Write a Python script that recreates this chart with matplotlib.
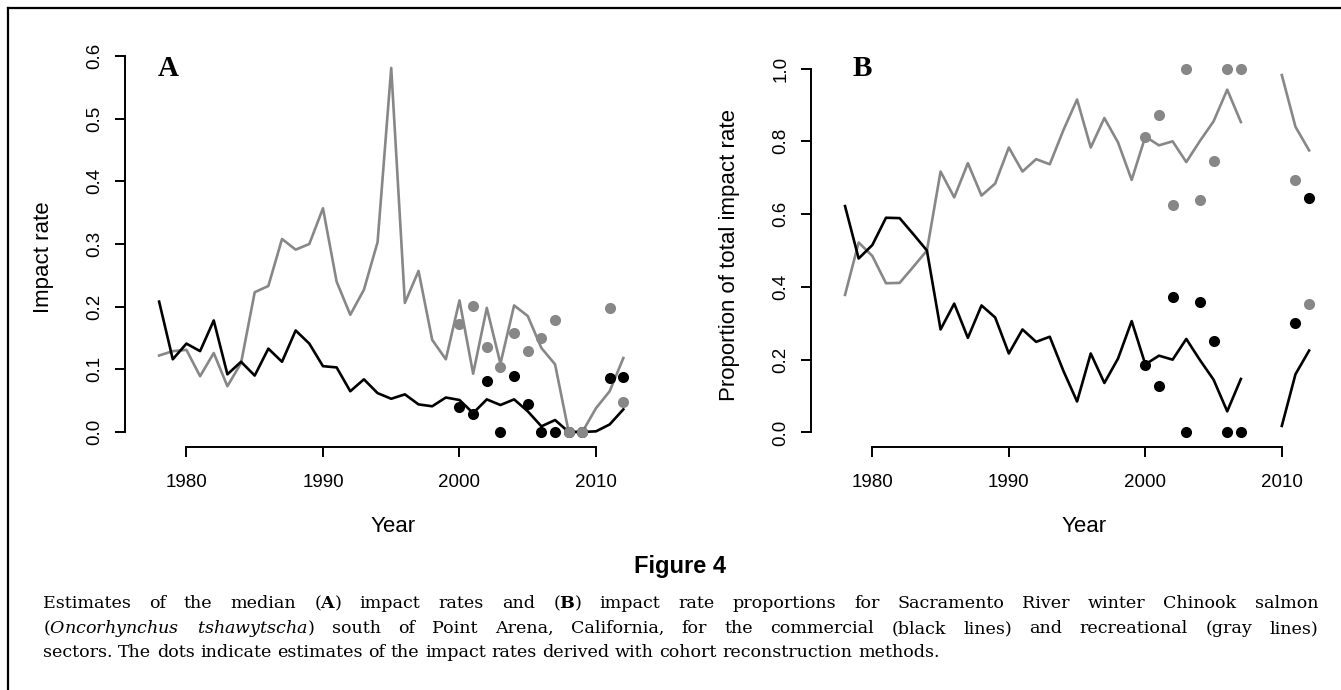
import numpy as np
from matplotlib import pyplot as plt
from matplotlib.lines import Line2D

# Figure 4: impact rates (A) and proportions (B), commercial vs recreational
W, H = 1341, 690

years = np.arange(1978, 2013)

# Panel A - median impact rates
comm_rate = [0.208, 0.116, 0.141, 0.129, 0.178, 0.092, 0.112, 0.090, 0.133, 0.112,
             0.162, 0.141, 0.105, 0.103, 0.065, 0.084, 0.062, 0.053, 0.060, 0.044,
             0.041, 0.055, 0.051, 0.030, 0.052, 0.043, 0.052, 0.033, 0.009, 0.019,
             0.000, 0.000, 0.001, 0.012, 0.036]
rec_rate = [0.122, 0.129, 0.131, 0.089, 0.126, 0.073, 0.110, 0.223, 0.233, 0.308,
            0.291, 0.300, 0.357, 0.240, 0.187, 0.227, 0.303, 0.581, 0.206, 0.257,
            0.147, 0.116, 0.210, 0.093, 0.198, 0.109, 0.202, 0.185, 0.134, 0.108,
            0.000, 0.000, 0.038, 0.065, 0.118]

# cohort reconstruction estimates (dots), panel A
cr_years_a = [2000, 2001, 2002, 2003, 2004, 2005, 2006, 2007, 2008, 2009, 2011, 2012]
cr_comm_a = [0.040, 0.029, 0.082, 0.000, 0.089, 0.044, 0.000, 0.000, 0.000, 0.000, 0.086, 0.087]
cr_rec_a = [0.173, 0.201, 0.136, 0.104, 0.158, 0.129, 0.150, 0.178, 0.000, 0.000, 0.198, 0.048]

# Panel B - proportion of total impact rate
comm_prop = [0.622, 0.478, 0.515, 0.590, 0.589, 0.545, 0.500, 0.283, 0.354, 0.260,
             0.349, 0.316, 0.217, 0.283, 0.249, 0.263, 0.169, 0.085, 0.217, 0.136,
             0.203, 0.306, 0.187, 0.211, 0.200, 0.257, 0.199, 0.145, 0.058, 0.147,
             np.nan, np.nan, 0.018, 0.160, 0.225]
rec_prop = [0.378, 0.522, 0.485, 0.410, 0.411, 0.455, 0.500, 0.717, 0.646, 0.740,
            0.651, 0.684, 0.783, 0.717, 0.751, 0.737, 0.831, 0.915, 0.783, 0.864,
            0.797, 0.694, 0.813, 0.789, 0.800, 0.743, 0.801, 0.855, 0.942, 0.853,
            np.nan, np.nan, 0.982, 0.840, 0.775]

cr_years_b = [2000, 2001, 2002, 2003, 2004, 2005, 2006, 2007, 2011, 2012]
cr_comm_b = [0.185, 0.127, 0.372, 0.000, 0.359, 0.252, 0.000, 0.000, 0.302, 0.644]
cr_rec_b = [0.813, 0.871, 0.626, 1.000, 0.640, 0.746, 1.000, 1.000, 0.695, 0.354]

GRAY = '#878787'
SANS = ['Liberation Sans', 'DejaVu Sans']

plt.rcParams['mathtext.fontset'] = 'custom'
plt.rcParams['mathtext.rm'] = 'DejaVu Serif'
plt.rcParams['mathtext.it'] = 'DejaVu Serif:italic'
plt.rcParams['mathtext.bf'] = 'DejaVu Serif:bold'

fig = plt.figure(figsize=(W / 100, H / 100), dpi=100)


def px_axes(left, top, right, bottom):
    return fig.add_axes([left / W, 1 - bottom / H, (right - left) / W, (bottom - top) / H])


def style_axes(ax, ymax, yticks):
    for s in ['top', 'right']:
        ax.spines[s].set_visible(False)
    ax.spines['left'].set_bounds(0, ymax)
    ax.spines['bottom'].set_bounds(1980, 2010)
    for s in ['left', 'bottom']:
        ax.spines[s].set_linewidth(1.4)
    ax.set_xlim(1975.5, 2013.5)
    ax.set_xticks([1980, 1990, 2000, 2010])
    ax.set_yticks(yticks)
    ax.set_yticklabels(['%.1f' % v for v in yticks])
    ax.tick_params(axis='both', length=7.5, width=1.4, labelsize=13.5)
    ax.tick_params(axis='x', pad=12)
    ax.tick_params(axis='y', pad=8, labelrotation=90)
    for lab in ax.get_yticklabels():
        lab.set_va('center')
    for lab in ax.get_xticklabels() + ax.get_yticklabels():
        lab.set_family(SANS)


def draw_panel(ax, comm, rec, cr_years, cr_comm, cr_rec):
    ax.plot(years, rec, color=GRAY, lw=1.9, zorder=2)
    ax.plot(years, comm, color='black', lw=1.9, zorder=3)
    ax.plot(cr_years, cr_comm, 'o', color='black', ms=8, mew=0, zorder=4)
    ax.plot(cr_years, cr_rec, 'o', color=GRAY, ms=8, mew=0, zorder=5)


# Panel A
axA = px_axes(125, 41, 643.8, 447)
draw_panel(axA, comm_rate, rec_rate, cr_years_a, cr_comm_a, cr_rec_a)
axA.set_ylim(-0.024, 0.624)
style_axes(axA, 0.6, [0.0, 0.1, 0.2, 0.3, 0.4, 0.5, 0.6])

# Panel B
axB = px_axes(810.9, 54, 1329.6, 447)
draw_panel(axB, comm_prop, rec_prop, cr_years_b, cr_comm_b, cr_rec_b)
axB.set_ylim(-0.04, 1.04)
style_axes(axB, 1.0, [0.0, 0.2, 0.4, 0.6, 0.8, 1.0])


def ftext(x, y, s, **kw):
    return fig.text(x / W, 1 - y / H, s, **kw)


# panel letters and axis labels
ftext(168, 68, 'A', family=['Liberation Serif', 'DejaVu Serif'], weight='bold',
      size=21, ha='center', va='center')
ftext(862, 68, 'B', family=['Liberation Serif', 'DejaVu Serif'], weight='bold',
      size=21, ha='center', va='center')
ftext(44, 257, 'Impact rate', family=SANS, size=16, rotation=90, ha='center', va='center')
ftext(730, 255, 'Proportion of total impact rate', family=SANS, size=16,
      rotation=90, ha='center', va='center')
ftext(393, 532, 'Year', family=SANS, size=16, ha='center', va='baseline')
ftext(1084, 532, 'Year', family=SANS, size=16, ha='center', va='baseline')

ftext(680, 573, 'Figure 4', family=SANS, weight='bold', size=17, ha='center', va='baseline')

# frame (top and left rule)
fig.add_artist(Line2D([8 / W, 1], [1 - 8 / H, 1 - 8 / H], color='black', lw=1.6,
                      transform=fig.transFigure))
fig.add_artist(Line2D([8 / W, 8 / W], [1 - 8 / H, 0], color='black', lw=1.6,
                      transform=fig.transFigure))

# caption, justified word by word
cap_lines = [
    'Estimates of the median ($\\mathbf{A}$) impact rates and ($\\mathbf{B}$) impact rate '
    'proportions for Sacramento River winter Chinook salmon',
    '($\\mathit{Oncorhynchus}$ $\\mathit{tshawytscha}$) south of Point Arena, California, '
    'for the commercial (black lines) and recreational (gray lines)',
    'sectors. The dots indicate estimates of the impact rates derived with cohort '
    'reconstruction methods.',
]
cap_base = [608, 633, 657]
cap_left, cap_right = 43, 1318
cap_size = 12.6

renderer = fig.canvas.get_renderer()
for i, (line, yb) in enumerate(zip(cap_lines, cap_base)):
    words = line.split(' ')
    texts = [ftext(0, yb, w, family='DejaVu Serif', size=cap_size, ha='left', va='baseline')
             for w in words]
    widths = [t.get_window_extent(renderer).width for t in texts]
    if i < len(cap_lines) - 1:
        gap = (cap_right - cap_left - sum(widths)) / (len(words) - 1)
    else:
        gap = cap_size * 100 / 72 * 0.32
    x = cap_left
    for t, w in zip(texts, widths):
        t.set_x(x / W)
        x += w + gap

fig.savefig('out.png', dpi=100)
